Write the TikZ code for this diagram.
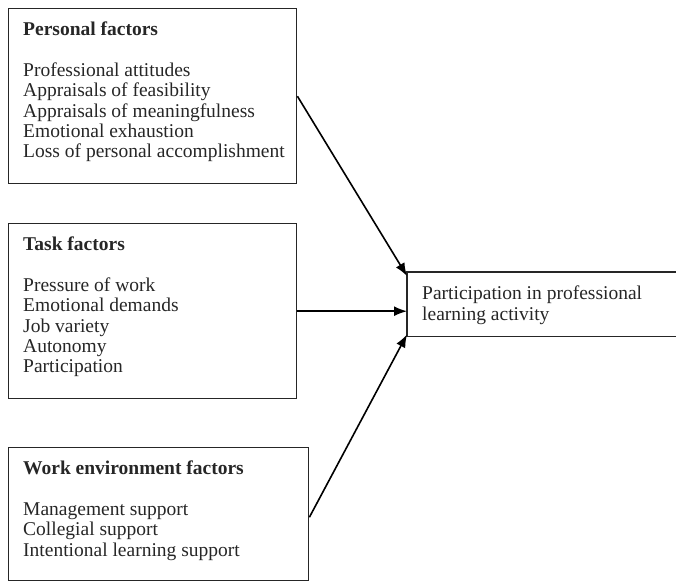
\documentclass[tikz,border=0pt]{standalone}
\usepackage{fontspec}
\setmainfont{Liberation Serif}
\usetikzlibrary{arrows.meta}

\tikzset{
  factorbox/.style={draw=black!85, line width=1.4pt, anchor=north west, inner sep=0pt},
  factortext/.style={anchor=north west, align=left, inner xsep=15pt, inner ysep=14pt,
    font=\fontsize{19.5}{20.3}\selectfont, text=black!85},
  link/.style={line width=1.6pt, -{Latex[length=13pt,width=10pt]}}
}

\begin{document}
\begin{tikzpicture}[x=1pt,y=-1pt]
    \useasboundingbox (0,0) rectangle (676,584);

    % the three groups of factors
    \node[factorbox, minimum width=288pt, minimum height=175pt] (personal) at (8,8) {};
    \node[factortext] (personaltxt) at (personal.north west)
      {\textbf{Personal factors}\\[20.3pt]Professional attitudes\\Appraisals of feasibility\\Appraisals of meaningfulness\\Emotional exhaustion\\Loss of personal accomplishment};

    \node[factorbox, minimum width=288pt, minimum height=175pt] (task) at (8,223) {};
    \node[factortext] (tasktxt) at (task.north west)
      {\textbf{Task factors}\\[20.3pt]Pressure of work\\Emotional demands\\Job variety\\Autonomy\\Participation};

    \node[factorbox, minimum width=300pt, minimum height=133pt] (work) at (8,447) {};
    \node[factortext] (worktxt) at (work.north west)
      {\textbf{Work environment factors}\\[20.3pt]Management support\\Collegial support\\Intentional learning support};

    % outcome, open to the right
    \node[anchor=north west, inner sep=0pt, minimum width=269pt, minimum height=64pt] (partic) at (407,272) {};
    \draw[line width=1.4pt, draw=black!85] (partic.north east) -- (partic.north west) -- (partic.south west) -- (partic.south east);
    \node[factortext] (partictxt) at (partic.north west)
      {Participation in professional\\learning activity};

    % links
    \draw[link] (personal.east) -- ([yshift=-4pt]partic.north west);
    \draw[link] (task.east) -- (task.east -| partic.west);
    \draw[link] ([yshift=-3pt]work.east) -- ([yshift=2pt]partic.south west);
\end{tikzpicture}
\end{document}
